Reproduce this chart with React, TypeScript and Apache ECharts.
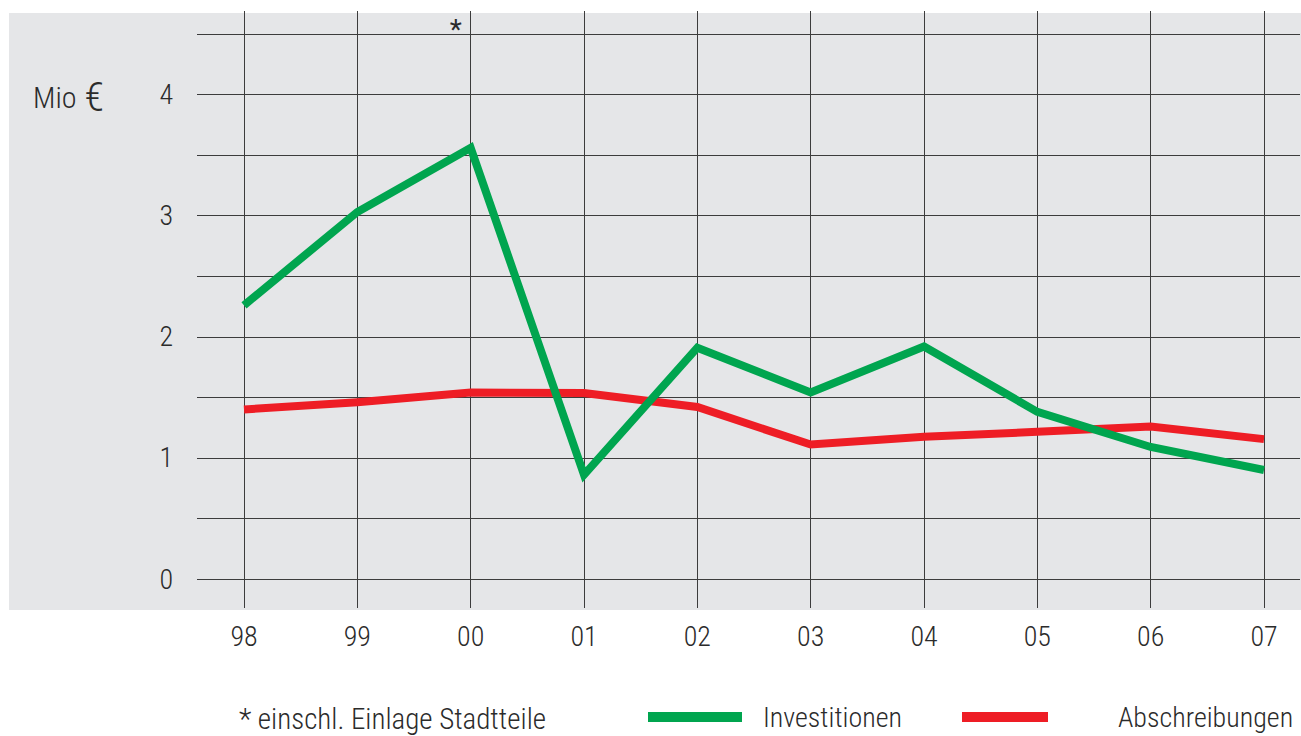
import React, { useEffect, useRef } from "react";
import * as echarts from "echarts";

const years = ["98", "99", "00", "01", "02", "03", "04", "05", "06", "07"];
const investitionen = [2.26, 3.03, 3.56, 0.86, 1.91, 1.54, 1.92, 1.38, 1.09, 0.9];
const abschreibungen = [1.4, 1.46, 1.54, 1.535, 1.42, 1.11, 1.175, 1.215, 1.26, 1.155];
const yMin = 0;
const yMax = 4.5;
const yStep = 0.5;
const unitText = "Mio";
const unitSymbol = "€";
const footnote = "* einschl. Einlage Stadtteile";
const starMarkYear = "00";
const seriesNames = ["Investitionen", "Abschreibungen"];

const FONT = "'Liberation Sans Narrow', 'Roboto Condensed', 'Liberation Sans', sans-serif";
const TEXT = "#2b2b2b";
const GREEN = "#00a54f";
const RED = "#ee1d25";
const GRID_LINE = "#3c3c3c";

export default function App() {
  const ref = useRef<HTMLDivElement>(null);
  useEffect(() => {
    if (!ref.current) return;
    const chart = echarts.init(ref.current, null, { renderer: "svg" });
    const starIdx = years.indexOf(starMarkYear);
    chart.setOption({
      animation: false,
      backgroundColor: "#ffffff",
      textStyle: { fontFamily: FONT, fontWeight: 300 },
      graphic: [
        {
          type: "rect",
          z: -10,
          shape: { x: 9, y: 13, width: 1292, height: 597 },
          style: { fill: "#e5e6e8" },
          silent: true,
        },
        {
          type: "text",
          x: 33,
          y: 97,
          style: {
            text: `{m|${unitText}}{g| }{e|${unitSymbol}}`,
            fontFamily: FONT,
            fontWeight: 300,
            fontSize: 28,
            fill: TEXT,
            verticalAlign: "middle",
            align: "left",
            rich: {
              m: { fontFamily: FONT, fontWeight: 300, fontSize: 30, fill: TEXT },
              g: { fontFamily: FONT, fontSize: 28, width: 8 },
              e: { fontFamily: FONT, fontWeight: 300, fontSize: 40, fill: TEXT },
            },
          },
        },
        {
          type: "text",
          x: 239,
          y: 719,
          style: {
            text: footnote,
            fontFamily: FONT,
            fontWeight: 300,
            fontSize: 29,
            fill: TEXT,
            verticalAlign: "middle",
            align: "left",
          },
        },
      ],
      grid: [
        { left: 244, right: 37, top: 34, bottom: 157 },
        { left: 197, right: 1, top: 34, bottom: 157 },
        { left: 244, right: 37, top: 11, bottom: 128 },
      ],
      legend: [
        {
          data: [seriesNames[0]],
          left: 648,
          top: 703,
          padding: 0,
          icon: "rect",
          itemWidth: 94,
          itemHeight: 10,
          textStyle: { fontFamily: FONT, fontWeight: 300, fontSize: 28, color: TEXT, padding: [0, 0, 0, 16] },
        },
        {
          data: [seriesNames[1]],
          left: 962,
          top: 703,
          padding: 0,
          icon: "rect",
          itemWidth: 86,
          itemHeight: 10,
          textStyle: { fontFamily: FONT, fontWeight: 300, fontSize: 28, color: TEXT, padding: [0, 0, 0, 65] },
        },
      ],
      xAxis: [
        {
          type: "category",
          gridIndex: 0,
          data: years,
          boundaryGap: false,
          show: false,
        },
        {
          type: "value",
          gridIndex: 1,
          show: false,
        },
        {
          type: "category",
          gridIndex: 2,
          data: years,
          boundaryGap: false,
          axisLine: { show: false },
          axisTick: { show: false },
          axisLabel: { fontFamily: FONT, fontWeight: 300, fontSize: 28, color: TEXT, margin: 14 },
          splitLine: { show: true, lineStyle: { color: GRID_LINE, width: 1 } },
        },
      ],
      yAxis: [
        {
          type: "value",
          gridIndex: 0,
          min: yMin,
          max: yMax,
          interval: yStep,
          show: false,
        },
        {
          type: "value",
          gridIndex: 1,
          min: yMin,
          max: yMax,
          interval: yStep,
          axisLine: { show: false },
          axisTick: { show: false },
          axisLabel: {
            fontFamily: FONT,
            fontWeight: 300,
            fontSize: 28,
            color: TEXT,
            margin: 24,
            formatter: (v: number) => (Number.isInteger(v) && v < yMax ? String(v) : ""),
          },
          splitLine: { show: true, lineStyle: { color: GRID_LINE, width: 1 } },
        },
        {
          type: "value",
          gridIndex: 2,
          min: 0,
          max: 1,
          show: false,
        },
      ],
      series: [
        {
          name: seriesNames[1],
          type: "line",
          xAxisIndex: 0,
          yAxisIndex: 0,
          data: abschreibungen,
          symbol: "none",
          color: RED,
          lineStyle: { color: RED, width: 8, join: "miter", cap: "butt" },
        },
        {
          name: seriesNames[0],
          type: "line",
          xAxisIndex: 0,
          yAxisIndex: 0,
          data: investitionen,
          symbol: "none",
          color: GREEN,
          lineStyle: { color: GREEN, width: 8, join: "miter", cap: "butt" },
          markPoint: {
            symbol: "circle",
            symbolSize: 2,
            silent: true,
            itemStyle: { color: "rgba(0,0,0,0)" },
            data: [
              {
                coord: [starIdx, yMax],
                itemStyle: { color: "rgba(0,0,0,0)" },
                label: {
                  show: true,
                  position: "inside",
                  formatter: "*",
                  fontFamily: FONT,
                  fontWeight: "normal",
                  fontSize: 28,
                  color: TEXT,
                  offset: [-15, -5],
                },
              },
            ],
          },
        },
      ],
    });
    return () => chart.dispose();
  }, []);
  return (
    <div
      ref={ref}
      style={{ position: "absolute", left: 0, top: 0, width: 1301, height: 736 }}
    />
  );
}
